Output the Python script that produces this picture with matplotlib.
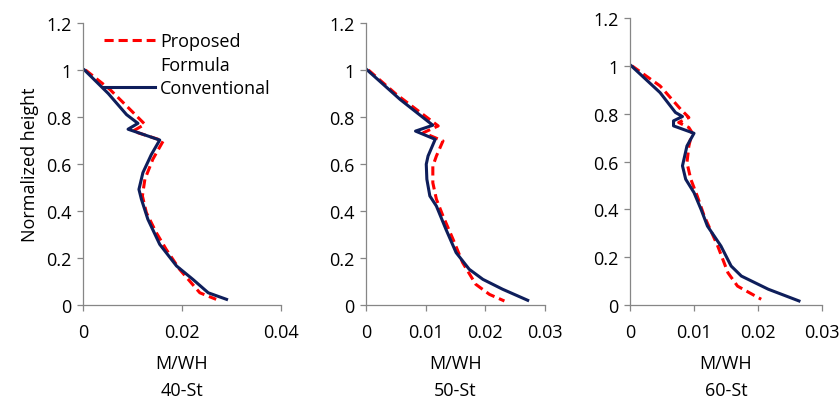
#!/usr/bin/env python3
import matplotlib

matplotlib.use("Agg")
import matplotlib.pyplot as plt
from matplotlib.lines import Line2D

plt.rcParams["font.family"] = ["Open Sans", "DejaVu Sans"]

# 40-storey
h40_conv = [1.0, 0.9, 0.81, 0.773, 0.748, 0.702, 0.64, 0.563, 0.492, 0.45, 0.365, 0.258, 0.166, 0.109, 0.052, 0.024]
m40_conv = [0.0003, 0.0051, 0.0088, 0.0111, 0.0091, 0.0155, 0.0138, 0.0121, 0.0113, 0.0118, 0.0131, 0.0155, 0.0189, 0.0222, 0.0253, 0.029]
h40_prop = [1.0, 0.918, 0.847, 0.769, 0.74, 0.698, 0.62, 0.535, 0.464, 0.393, 0.308, 0.237, 0.152, 0.052, 0.024]
m40_prop = [0.0005, 0.0054, 0.0088, 0.0125, 0.0101, 0.0162, 0.0141, 0.0125, 0.012, 0.0128, 0.0148, 0.0168, 0.0195, 0.0236, 0.0269]

# 50-storey
h50_conv = [1.0, 0.875, 0.765, 0.74, 0.705, 0.634, 0.599, 0.535, 0.464, 0.421, 0.322, 0.223, 0.152, 0.109, 0.067, 0.02]
m50_conv = [0.0002, 0.0057, 0.0112, 0.0083, 0.0116, 0.0104, 0.0101, 0.0102, 0.0107, 0.0118, 0.0134, 0.0151, 0.0173, 0.0196, 0.0229, 0.0271]
h50_prop = [1.0, 0.896, 0.762, 0.733, 0.698, 0.634, 0.591, 0.52, 0.45, 0.379, 0.279, 0.18, 0.088, 0.045, 0.017]
m50_prop = [0.0004, 0.0051, 0.0121, 0.0096, 0.0129, 0.0118, 0.0112, 0.0112, 0.0118, 0.0129, 0.0146, 0.0162, 0.0184, 0.0207, 0.0232]

# 60-storey
h60_conv = [1.0, 0.888, 0.805, 0.788, 0.77, 0.749, 0.718, 0.665, 0.582, 0.526, 0.47, 0.40, 0.33, 0.247, 0.163, 0.121, 0.066, 0.017]
m60_conv = [0.0002, 0.0047, 0.0071, 0.0082, 0.0068, 0.0068, 0.01, 0.0089, 0.0082, 0.0087, 0.01, 0.0111, 0.0121, 0.0142, 0.0158, 0.0174, 0.0216, 0.0264]
h60_prop = [1.0, 0.916, 0.819, 0.784, 0.763, 0.742, 0.721, 0.665, 0.595, 0.526, 0.456, 0.372, 0.247, 0.135, 0.079, 0.024]
m60_prop = [0.0003, 0.0047, 0.0079, 0.0092, 0.0076, 0.0092, 0.0097, 0.0092, 0.0089, 0.0095, 0.0105, 0.0116, 0.0137, 0.0153, 0.0168, 0.0205]

panels = [
    ("40-St", m40_prop, h40_prop, m40_conv, h40_conv, [0, 0.02, 0.04], ["0", "0.02", "0.04"]),
    ("50-St", m50_prop, h50_prop, m50_conv, h50_conv, [0, 0.01, 0.02, 0.03], ["0", "0.01", "0.02", "0.03"]),
    ("60-St", m60_prop, h60_prop, m60_conv, h60_conv, [0, 0.01, 0.02, 0.03], ["0", "0.01", "0.02", "0.03"]),
]
yticks = [0, 0.2, 0.4, 0.6, 0.8, 1.0, 1.2]
ylabels = ["0", "0.2", "0.4", "0.6", "0.8", "1", "1.2"]

# axes boxes in pixels: left, top, right, bottom
boxes = [(83, 24, 281, 306), (366, 24, 545, 306), (630, 19, 822, 306)]

W, H = 840, 402
RED = "#FF0000"
NAVY = "#0E1E5B"
GRAY = "#868686"
FS = 13

fig = plt.figure(figsize=(W / 100, H / 100), dpi=100)
for i, ((title, mp, hp, mc, hc, xt, xl), (l, t, r, b)) in enumerate(zip(panels, boxes)):
    ax = fig.add_axes([l / W, (H - b) / H, (r - l) / W, (b - t) / H])
    prop, = ax.plot(mp, hp, color=RED, linestyle=(0, (3, 1.6)), linewidth=2.2)
    conv, = ax.plot(mc, hc, color=NAVY, linewidth=2.2)
    ax.set_xlim(xt[0], xt[-1])
    ax.set_ylim(0, 1.2)
    ax.set_xticks(xt)
    ax.set_xticklabels(xl)
    ax.set_yticks(yticks)
    ax.set_yticklabels(ylabels)
    for side in ("top", "right"):
        ax.spines[side].set_visible(False)
    for side in ("left", "bottom"):
        ax.spines[side].set_color(GRAY)
        ax.spines[side].set_linewidth(0.9)
    ax.tick_params(axis="both", colors=GRAY, length=4.3, width=0.9, labelsize=FS, labelcolor="black")
    ax.tick_params(axis="x", pad=9)
    ax.tick_params(axis="y", pad=4)
    ax.set_xlabel("M/WH", fontsize=FS, labelpad=9)
    ax.annotate(title, xy=(0.5, 0), xycoords="axes fraction", xytext=(0, -85), textcoords="offset pixels",
                ha="center", va="center", fontsize=FS)
    if i == 0:
        ax.set_ylabel("Normalized height", fontsize=FS, labelpad=5)
        blank = Line2D([], [], linestyle="none")
        ax.legend([prop, blank, conv], ["Proposed", "Formula", "Conventional"], loc="upper left",
                  bbox_to_anchor=(0.07, 0.993), frameon=False, fontsize=FS, handlelength=2.8,
                  handletextpad=0.3, labelspacing=0.3, borderaxespad=0)

fig.savefig("out.png", dpi=100)
